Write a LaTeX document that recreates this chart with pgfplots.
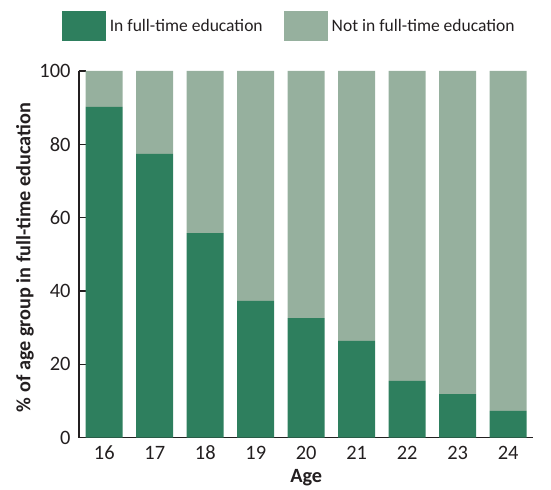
\documentclass[border=0pt]{standalone}
\usepackage{pgfplots}
\pgfplotsset{compat=1.18}
\usepackage{fontspec}
\setmainfont{Carlito}
\definecolor{dkg}{HTML}{2E7F5E}
\definecolor{ltg}{HTML}{96B09E}
\definecolor{txt}{HTML}{231F20}
\begin{document}
\begin{tikzpicture}
\begin{axis}[
  name=ax,
  scale only axis,
  width=454.5bp, height=366.7bp,
  ybar stacked,
  bar width=37bp,
  xmin=-0.5, xmax=8.5,
  ymin=0, ymax=100,
  axis x line*=bottom, axis y line*=left,
  axis line style={-, line width=1.5bp, color=txt},
  tick align=inside,
  xtick={0,...,8},
  xticklabels={16,17,18,19,20,21,22,23,24},
  major x tick style={draw=none},
  extra x ticks={0.5,1.5,...,8.5},
  extra x tick labels={},
  extra x tick style={major tick length=10bp, tick style={line width=1.5bp, color=txt}},
  ytick={0,20,...,100},
  major tick length=7bp,
  y tick style={line width=1.5bp, color=txt},
  /pgf/number format/assume math mode=true,
  tick label style={font=\fontsize{20.5}{24}\selectfont, text=txt},
  yticklabel style={anchor=east, inner sep=0pt, xshift=-8.3bp},
  xticklabel style={anchor=center, inner sep=0pt, yshift=-15bp},
  xlabel={\textbf{Age}},
  ylabel={\textbf{\% of age group in full-time education}},
  label style={font=\fontsize{20.3}{24}\selectfont, text=txt},
  xlabel style={at={(axis description cs:0.5,0)}, anchor=center, inner sep=0pt, yshift=-40.3bp},
  ylabel style={at={(axis description cs:0,0.5)}, anchor=center, inner sep=0pt, yshift=54bp, xshift=-3bp},
  legend columns=2,
  legend style={draw=none, fill=none, font=\fontsize{17.6}{21}\selectfont, text=txt,
    at={(axis description cs:0.5,1)}, anchor=south, xshift=-16bp, yshift=28bp,
    /tikz/every even column/.append style={column sep=18bp},
    nodes={inner sep=3.5bp}},
]
\addplot[fill=dkg, draw=none, legend image code/.code={\fill[dkg] (0bp,-15bp) rectangle (44bp,15bp);}]
  coordinates {(0,90.2) (1,77.4) (2,55.8) (3,37.3) (4,32.6) (5,26.4) (6,15.5) (7,11.9) (8,7.3)};
\addlegendentry{In full-time education}
\addplot[fill=ltg, draw=none, legend image code/.code={\fill[ltg] (0bp,-15bp) rectangle (44bp,15bp);}]
  coordinates {(0,9.8) (1,22.6) (2,44.2) (3,62.7) (4,67.4) (5,73.6) (6,84.5) (7,88.1) (8,92.7)};
\addlegendentry{Not in full-time education}
\end{axis}
\pgfresetboundingbox
\path ([shift={(-79bp,-52.3bp)}]ax.south west) rectangle ++(551bp,490bp);
\end{tikzpicture}
\end{document}
